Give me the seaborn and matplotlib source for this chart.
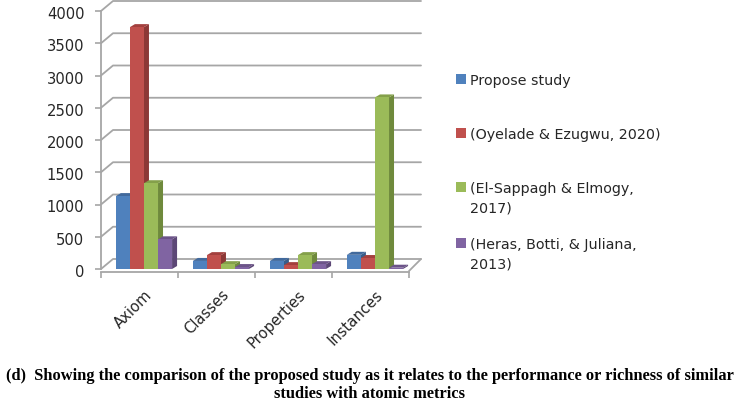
import pandas as pd, numpy as np
import matplotlib
matplotlib.use("Agg")
import matplotlib.pyplot as plt
from matplotlib.patches import Polygon, Rectangle
from matplotlib.transforms import ScaledTranslation
import seaborn as sns

# values
categories = ['Axiom', 'Classes', 'Properties', 'Instances']
propose_study = [1130, 125, 125, 220]
oyelade = [3750, 215, 60, 170]
el_sappagh = [1330, 75, 215, 2660]
heras = [460, 30, 75, 20]
yticks = [0, 500, 1000, 1500, 2000, 2500, 3000, 3500, 4000]

series_names = ['Propose study', '(Oyelade & Ezugwu, 2020)',
                '(El-Sappagh & Elmogy,\n2017)', '(Heras, Botti, & Juliana,\n2013)']
front_colors = ['#4F81BD', '#C0504D', '#9BBB59', '#8064A2']
side_colors = ['#385D8A', '#8C3836', '#6F8A3C', '#5C4776']
top_colors = ['#41699C', '#A3403E', '#84A04A', '#6C5489']
caption = ("(d)  Showing the comparison of the proposed study as it relates to the performance or richness of similar\n"
           "studies with atomic metrics")

# long table for seaborn
df = pd.DataFrame({'category': categories, series_names[0]: propose_study, series_names[1]: oyelade,
                   series_names[2]: el_sappagh, series_names[3]: heras})
df = df.melt(id_vars='category', var_name='series', value_name='value')

W, H = 738, 401
grid = '#A6A6A6'
text_color = '#262626'

sns.set_theme(style='white')
plt.rcParams['font.family'] = ['DejaVu Sans']
fig = plt.figure(figsize=(W / 100, H / 100), dpi=100)
ax = fig.add_axes([101 / W, 1 - 269 / H, 308 / W, 258 / H])

sns.barplot(data=df, x='category', y='value', hue='series', order=categories, hue_order=series_names,
            palette=front_colors, width=0.73, gap=0, saturation=1, legend=False, ax=ax, zorder=3)

x_lo = -0.558
ax.set_xlim(x_lo, x_lo + 4)
ax.set_ylim(0, 4000)
ax.set_xlabel('')
ax.set_ylabel('')
sns.despine(ax=ax, top=True, right=True, left=False, bottom=False)
ax.spines['left'].set_color(grid)
ax.spines['bottom'].set_color(grid)
ax.spines['left'].set_linewidth(1.3)
ax.spines['bottom'].set_linewidth(1.3)
ax.spines['bottom'].set_position(('outward', 2))
ax.patch.set_alpha(0)

# pixel sizes of the fake 3d depth, turned into data units
px_x = 4 / 308
px_y = 4000 / 258
back_dx, back_dy = 12 * px_x, 10 * px_y
bar_dx, bar_dy = 5 * px_x, 3 * px_y

# back wall gridlines and the floor
for v in yticks:
    ax.plot([x_lo, x_lo + back_dx, x_lo + 4 + back_dx], [v, v + back_dy, v + back_dy],
            color=grid, lw=1.3, clip_on=False, zorder=1)
ax.plot([x_lo + 4, x_lo + 4 + back_dx], [-2 * px_y, back_dy], color=grid, lw=1.3, clip_on=False, zorder=1)

# side and top faces of every bar
for i, container in enumerate(ax.containers):
    for bar in container:
        x0, x1 = bar.get_x(), bar.get_x() + bar.get_width()
        h = bar.get_height()
        bar.set_edgecolor('none')
        ax.add_patch(Polygon([(x1, 0), (x1 + bar_dx, bar_dy), (x1 + bar_dx, h + bar_dy), (x1, h)],
                             facecolor=side_colors[i], edgecolor='none', clip_on=False, zorder=2))
        ax.add_patch(Polygon([(x0, h), (x0 + bar_dx, h + bar_dy), (x1 + bar_dx, h + bar_dy), (x1, h)],
                             facecolor=top_colors[i], edgecolor='none', clip_on=False, zorder=2))

# ticks at the category edges, labels at the centres
ax.set_xticks([x_lo + k for k in range(5)])
ax.set_xticklabels([])
ax.set_xticks(range(len(categories)), minor=True)
ax.set_xticklabels(categories, minor=True, rotation=45, ha='right', rotation_mode='anchor',
                   fontsize=10.6, color=text_color)
# nudge the rotated labels to the left
nudge = ScaledTranslation(-17 / 100, 0, fig.dpi_scale_trans)
for lab in ax.get_xticklabels(minor=True):
    lab.set_transform(lab.get_transform() + nudge)
ax.tick_params(axis='x', which='major', length=4, width=1.2, color=grid, bottom=True)
ax.tick_params(axis='x', which='minor', length=0, pad=11, bottom=False)
ax.set_yticks(yticks)
ax.set_yticklabels([str(v) for v in yticks], fontsize=10.6, color=text_color)
ax.tick_params(axis='y', length=4, width=1.2, color=grid, pad=8, left=True)
# y labels sit slightly below their ticks
drop = ScaledTranslation(0, -2 / 100, fig.dpi_scale_trans)
for lab in ax.get_yticklabels():
    lab.set_transform(lab.get_transform() + drop)

# legend, rows drawn by hand so the wrapped labels keep the original spacing
legend_y = [79, 133, 187, 243]
for name, c, y in zip(series_names, front_colors, legend_y):
    fig.add_artist(Rectangle((456 / W, 1 - (y + 5) / H), 10 / W, 10 / H, transform=fig.transFigure,
                             facecolor=c, edgecolor='none'))
    fig.text(470 / W, 1 - (y - 5) / H, name, fontsize=10.25, color=text_color, va='top', ha='left', linespacing=1.52)

fig.text(370 / W, 1 - 368 / H, caption, fontsize=11.8, fontweight='bold', family='Liberation Serif',
         color='black', ha='center', va='top', linespacing=1.2)

fig.savefig('out.png', dpi=100)
